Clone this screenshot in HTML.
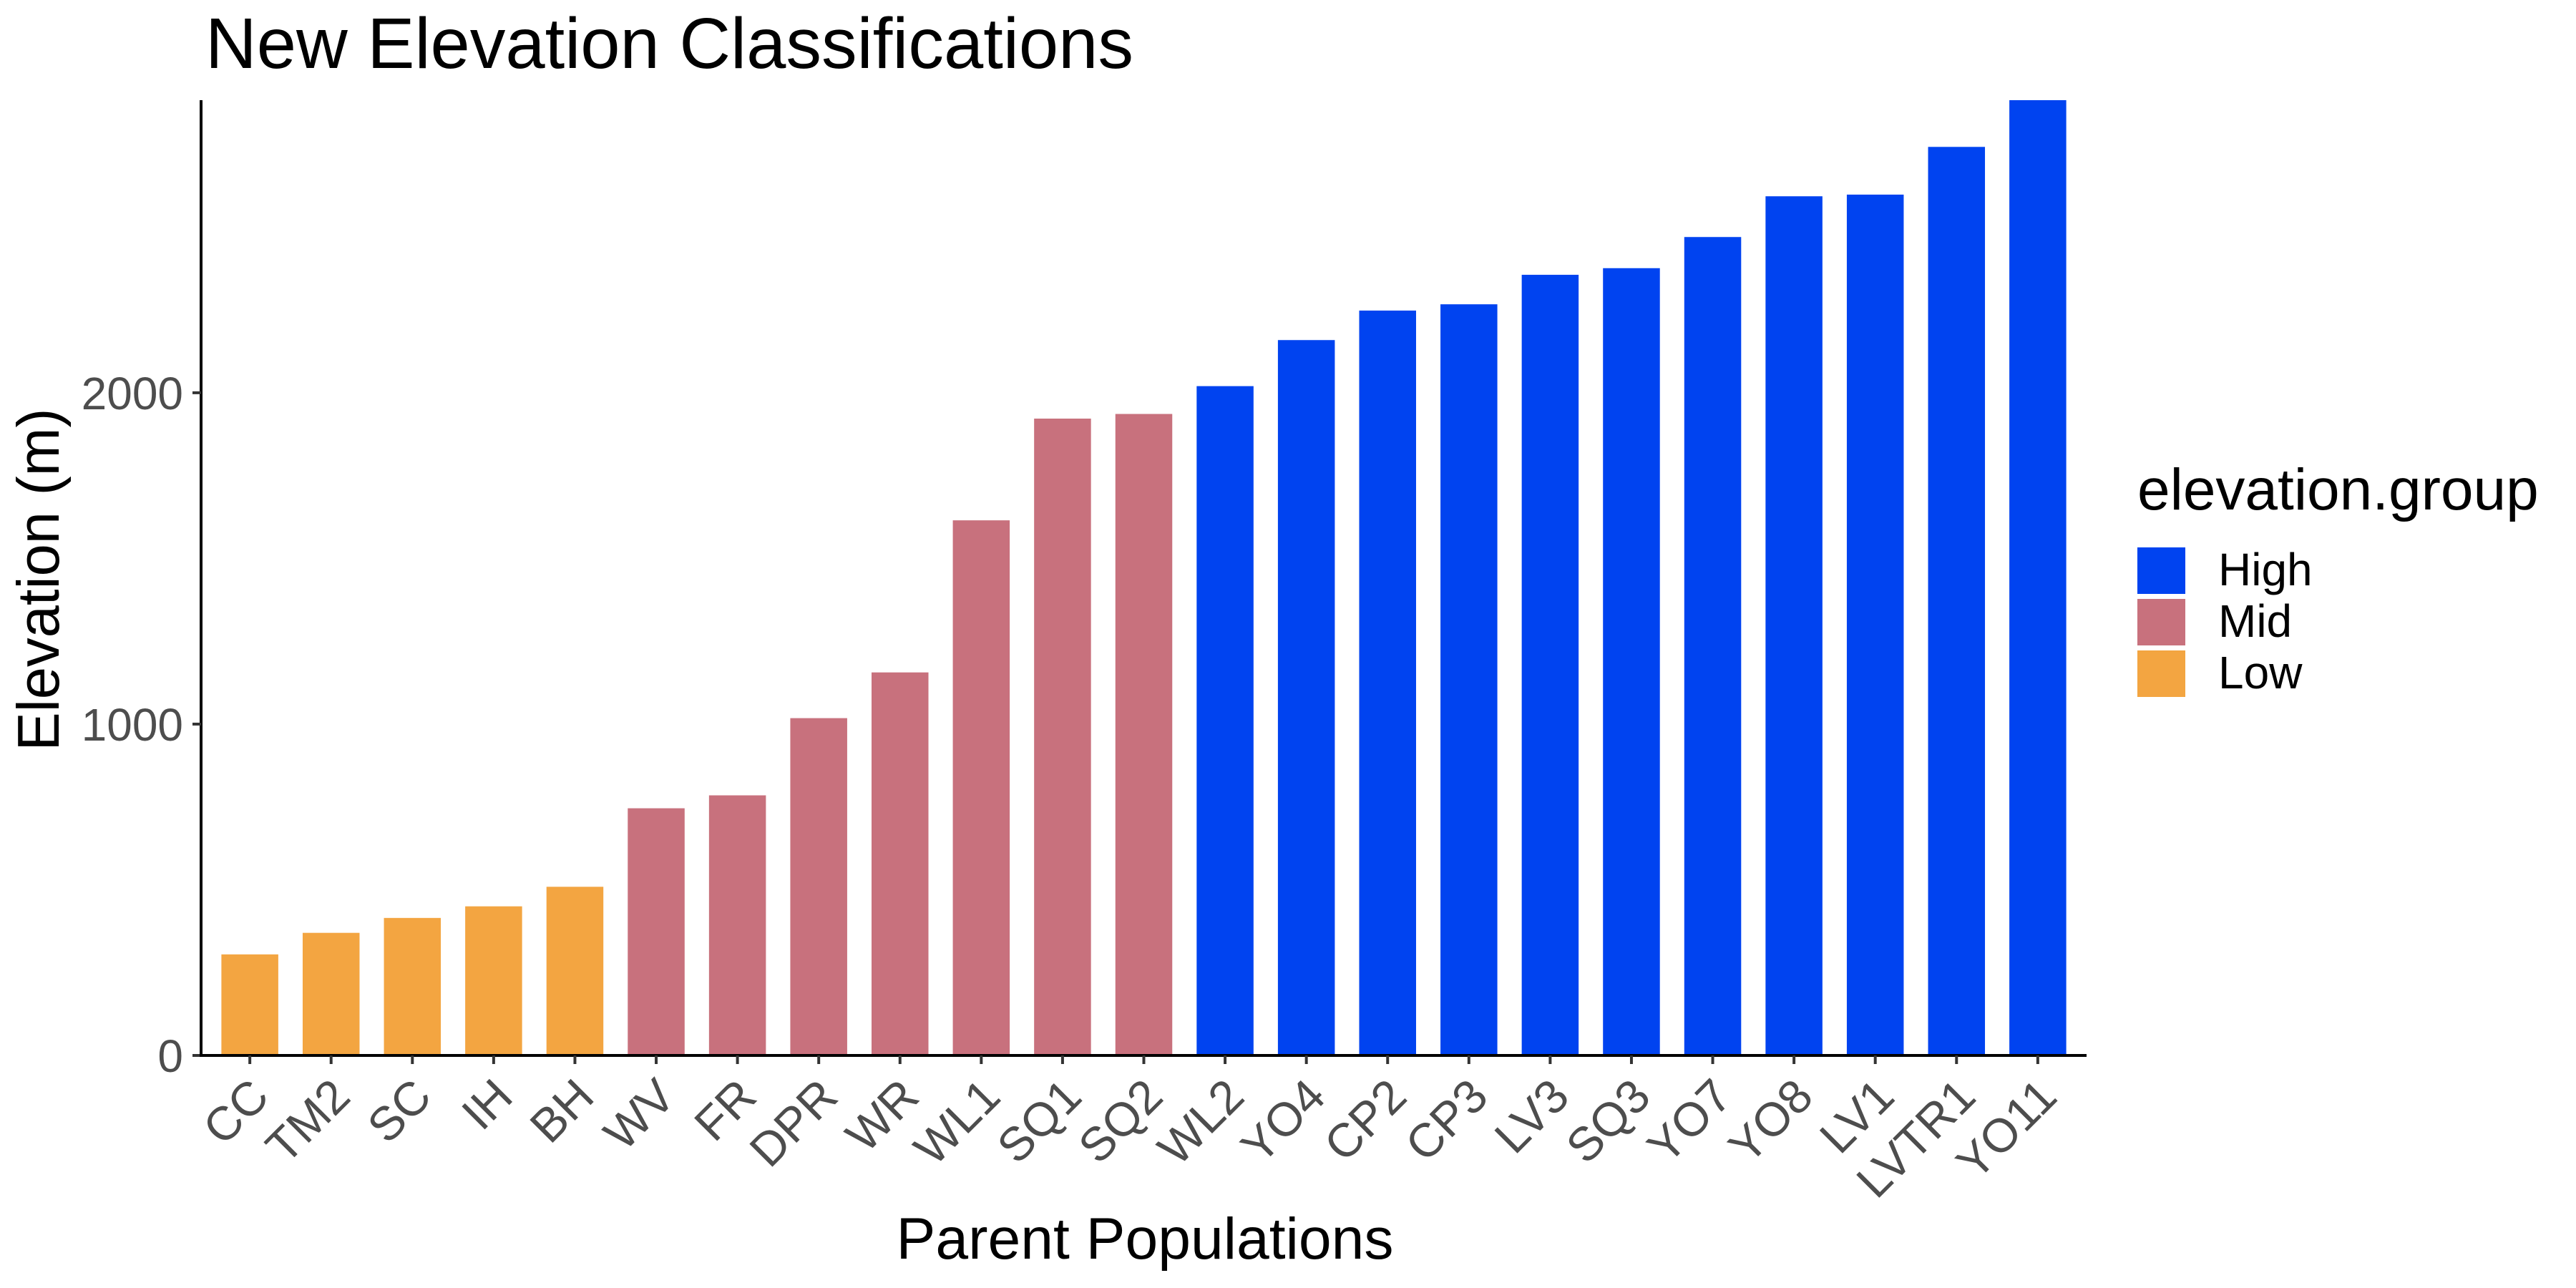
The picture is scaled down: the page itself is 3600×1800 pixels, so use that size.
<!DOCTYPE html>
<html><head><meta charset="utf-8"><style>
html,body{margin:0;padding:0;background:#fff}
svg{display:block;font-family:"Liberation Sans",Arial,sans-serif}
</style></head><body>
<svg id="chart" width="3600" height="1800" viewBox="0 0 3600 1800">
<text x="287" y="95" font-size="100" fill="#000" textLength="1297" lengthAdjust="spacingAndGlyphs">New Elevation Classifications</text>
<g id="bars"></g>
<g id="yaxis"></g>
<g id="xaxis"></g>
<text x="1600" y="1759" font-size="82" text-anchor="middle" textLength="695" lengthAdjust="spacingAndGlyphs">Parent Populations</text>
<text transform="translate(82,810) rotate(-90)" font-size="83" text-anchor="middle" textLength="479" lengthAdjust="spacingAndGlyphs">Elevation (m)</text>
<g>
<text x="2987" y="712" font-size="82">elevation.group</text>
<g><rect x="2987" y="765" width="67" height="65" fill="#0043F0"/><text x="3100" y="818" font-size="64">High</text></g>
<g><rect x="2987" y="837" width="67" height="65" fill="#C8717D"/><text x="3100" y="890" font-size="64">Mid</text></g>
<g><rect x="2987" y="909" width="67" height="65" fill="#F3A541"/><text x="3100" y="962" font-size="64">Low</text></g>
</g>
</svg>
<script>
const categories = ["CC","TM2","SC","IH","BH","WV","FR","DPR","WR","WL1","SQ1","SQ2","WL2","YO4","CP2","CP3","LV3","SQ3","YO7","YO8","LV1","LVTR1","YO11"];
const elevations = [305,370,415,450,509,746,785,1018,1156,1615,1922,1936,2020,2159,2248,2267,2356,2376,2470,2593,2598,2742,2883];
const groups = ["Low","Low","Low","Low","Low","Mid","Mid","Mid","Mid","Mid","Mid","Mid","High","High","High","High","High","High","High","High","High","High","High"];
const yTicks = [0,1000,2000];
const colors = {High:"#0043F0", Mid:"#C8717D", Low:"#F3A541"};

const NS = "http://www.w3.org/2000/svg";
const px0 = 281, px1 = 2916, py0 = 1475, py1 = 140;
const yMax = Math.max(...elevations);
const step = (px1 - px0) / (categories.length - 1 + 1.2);
function xPos(i){ return px0 + (0.6 + i) * step; }
function yPos(v){ return py0 - (v / yMax) * (py0 - py1); }
function mk(tag, attrs, parent){ const e = document.createElementNS(NS, tag); for (const k in attrs) e.setAttribute(k, attrs[k]); parent.appendChild(e); return e; }

const bars = document.getElementById("bars");
categories.forEach((c, i) => {
  const w = step * 0.7;
  const r = mk("rect", {x: xPos(i) - w/2, y: yPos(elevations[i]), width: w, height: py0 - yPos(elevations[i]), fill: colors[groups[i]]}, bars);
  
  
});

const ya = document.getElementById("yaxis");
mk("line", {x1: px0, y1: py1, x2: px0, y2: py0 + 2, stroke: "#000", "stroke-width": 4}, ya);
yTicks.forEach(t => {
  const y = yPos(t);
  mk("line", {x1: px0 - 12, y1: y, x2: px0, y2: y, stroke: "#333", "stroke-width": 4}, ya);
  const tx = mk("text", {x: px0 - 25, y: y + 23, "font-size": 64, fill: "#4d4d4d", "text-anchor": "end"}, ya);
  tx.textContent = t;
  
  
});

const xa = document.getElementById("xaxis");
mk("line", {x1: px0 - 2, y1: py0, x2: px1, y2: py0, stroke: "#000", "stroke-width": 4}, xa);
categories.forEach((c, i) => {
  const x = xPos(i);
  mk("line", {x1: x, y1: py0, x2: x, y2: py0 + 12, stroke: "#333", "stroke-width": 4}, xa);
  const tx = mk("text", {transform: "translate(" + (x + 30) + ",1536) rotate(-45)", "font-size": 66, fill: "#4d4d4d", "text-anchor": "end"}, xa);
  tx.textContent = c;
  
  
});
</script>
</body></html>
